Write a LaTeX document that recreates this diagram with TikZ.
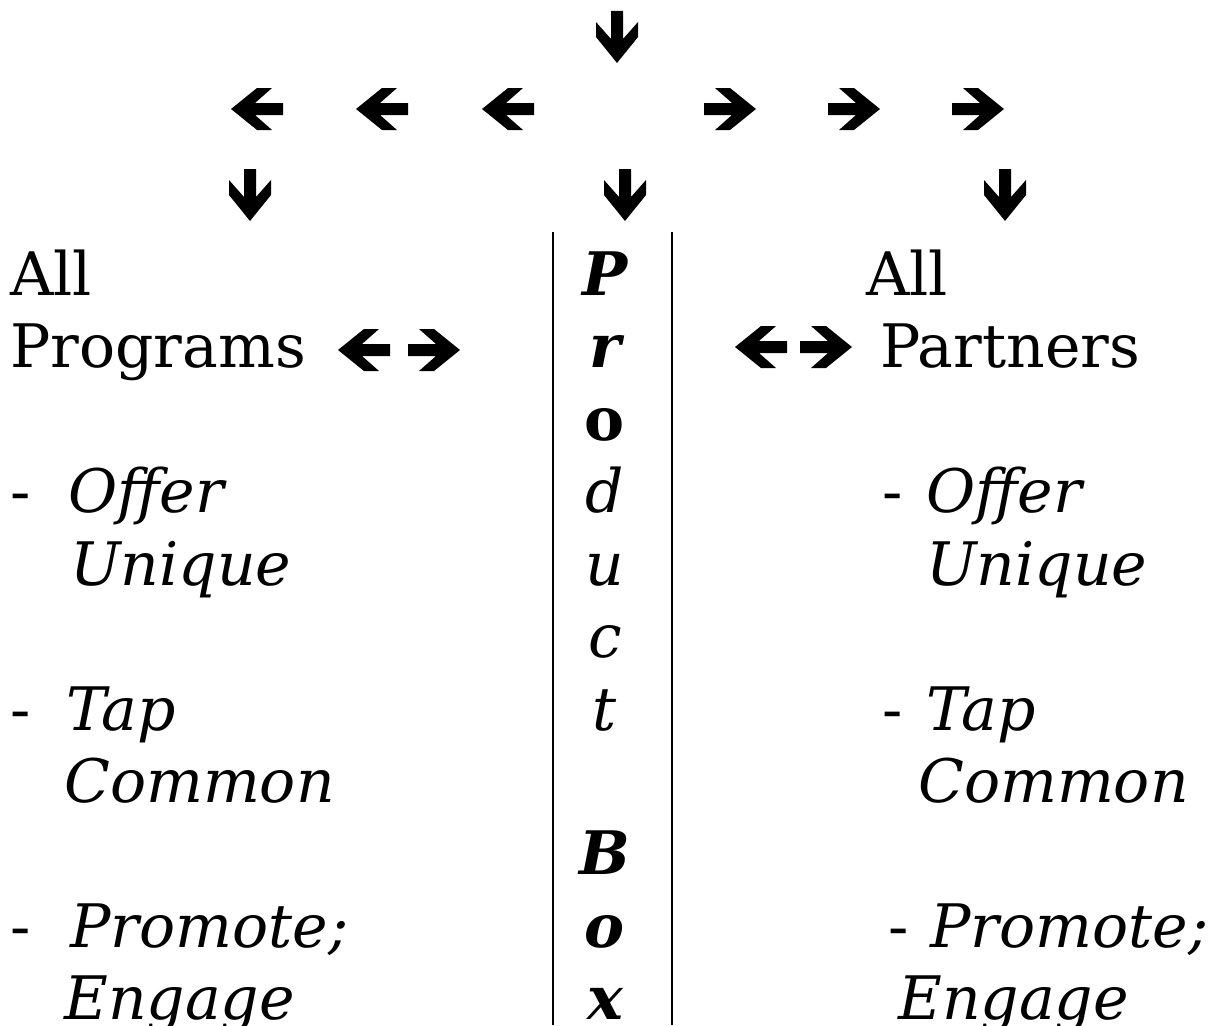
\documentclass[tikz,border=0pt]{standalone}
\usepackage{fontspec}
\setmainfont{DejaVu Serif}

\begin{document}
\begin{tikzpicture}[
    x=1pt, y=-1pt,
    % 正文样式（左对齐，基线定位）
    txt/.style={anchor=base west, inner sep=0pt, font=\fontsize{60}{72}\selectfont},
    % 斜体样式
    itxt/.style={txt, font=\fontsize{60}{72}\selectfont\itshape},
    % 中间竖排字母样式
    letter/.style={anchor=base, inner sep=0pt, font=\fontsize{60}{72}\selectfont},
    % 分隔竖线样式
    sepline/.style={line width=2.4pt},
    % 粗箭头（默认指向右）
    bigarrow/.pic={
        \fill (26,0) -- (0,21) -- (-15,21) -- (2,6) -- (-26,6)
              -- (-26,-6) -- (2,-6) -- (-15,-21) -- (0,-21) -- cycle;
    }
]

    % 1. 固定画布大小
    \useasboundingbox (0,0) rectangle (1222,1025);

    % 2. 定义各行基线
    \def\rowA{295}   \def\rowB{367}   \def\rowC{440}
    \def\rowD{512}   \def\rowE{585}   \def\rowF{657}
    \def\rowG{730}   \def\rowH{802}   \def\rowI{874}
    \def\rowJ{947}   \def\rowK{1019}
    \def\midX{605}   % 中间一栏的中心

    % 3. 顶部箭头
    \pic[rotate=-90] at (617,37) {bigarrow};
    \pic[rotate=180] at (257,109) {bigarrow};
    \pic[rotate=180] at (382,109) {bigarrow};
    \pic[rotate=180] at (508,109) {bigarrow};
    \pic at (730,109) {bigarrow};
    \pic at (854,109) {bigarrow};
    \pic at (978,109) {bigarrow};
    \pic[rotate=-90] at (250,195) {bigarrow};
    \pic[rotate=-90] at (625,195) {bigarrow};
    \pic[rotate=-90] at (1005,195) {bigarrow};

    % 4. 两条分隔竖线
    \draw[sepline] (553,232) -- (553,1025);
    \draw[sepline] (672,232) -- (672,1025);

    % 5. 左栏：All Programs
    \node[txt] (progall) at (10,\rowA) {All};
    \node[txt] (prog) at (10,\rowB) {Programs};
    \pic[rotate=180] at (364,350) {bigarrow};
    \pic at (434,350) {bigarrow};

    \node[txt]  (progdashA) at (10,\rowD) {-};
    \node[itxt] (progoffer) at (68,\rowD) {Offer};
    \node[itxt] (progunique) at (70,\rowE) {Unique};
    \node[txt]  (progdashB) at (10,\rowG) {-};
    \node[itxt] (progtap) at (66,\rowG) {Tap};
    \node[itxt] (progcommon) at (64,\rowH) {Common};
    \node[txt]  (progdashC) at (10,\rowJ) {-};
    \node[itxt] (progpromote) at (70,\rowJ) {Promote;};
    \node[itxt] (progengage) at (64,\rowK) {Engage};

    % 6. 中间竖排：Product Box
    \node[letter, font=\fontsize{60}{72}\selectfont\bfseries\itshape] (boxP) at (\midX,\rowA) {P};
    \node[letter, font=\fontsize{60}{72}\selectfont\bfseries\itshape] (boxr) at (\midX,\rowB) {r};
    \node[letter, font=\fontsize{60}{72}\selectfont\bfseries] (boxo) at (\midX,\rowC) {o};
    \node[letter, font=\fontsize{60}{72}\selectfont\itshape] (boxd) at (\midX,\rowD) {d};
    \node[letter, font=\fontsize{60}{72}\selectfont\itshape] (boxu) at (\midX,\rowE) {u};
    \node[letter, font=\fontsize{60}{72}\selectfont\itshape] (boxc) at (\midX,\rowF) {c};
    \node[letter, font=\fontsize{60}{72}\selectfont\itshape] (boxt) at (\midX,\rowG) {t};
    \node[letter, font=\fontsize{60}{72}\selectfont\bfseries\itshape] (boxB) at (\midX,\rowI) {B};
    \node[letter, font=\fontsize{60}{72}\selectfont\bfseries\itshape] (boxoo) at (\midX,\rowJ) {o};
    \node[letter, font=\fontsize{60}{72}\selectfont\bfseries\itshape] (boxx) at (\midX,\rowK) {x};

    % 7. 右栏：All Partners
    \node[txt] (partall) at (866,\rowA) {All};
    \pic[rotate=180] at (761,347) {bigarrow};
    \pic at (826,347) {bigarrow};
    \node[txt] (part) at (880,\rowB) {Partners};

    \node[txt]  (partdashA) at (882,\rowD) {-};
    \node[itxt] (partoffer) at (926,\rowD) {Offer};
    \node[itxt] (partunique) at (926,\rowE) {Unique};
    \node[txt]  (partdashB) at (882,\rowG) {-};
    \node[itxt] (parttap) at (926,\rowG) {Tap};
    \node[itxt] (partcommon) at (918,\rowH) {Common};
    \node[txt]  (partdashC) at (888,\rowJ) {-};
    \node[itxt] (partpromote) at (930,\rowJ) {Promote;};
    \node[itxt] (partengage) at (898,\rowK) {Engage};

\end{tikzpicture}
\end{document}
